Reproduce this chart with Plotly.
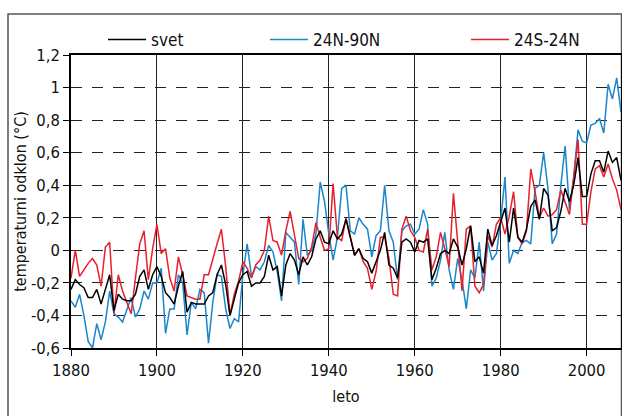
import plotly.graph_objects as go

years = list(range(1880, 2009))

svet = [
    -0.24, -0.18, -0.21, -0.23, -0.29, -0.29, -0.24, -0.33, -0.24, -0.15,
    -0.37, -0.27, -0.30, -0.31, -0.31, -0.27, -0.16, -0.12, -0.24, -0.15,
    -0.10, -0.16, -0.26, -0.29, -0.33, -0.22, -0.13, -0.38, -0.32, -0.33,
    -0.33, -0.33, -0.28, -0.26, -0.15, -0.09, -0.21, -0.40, -0.30, -0.20,
    -0.15, -0.13, -0.22, -0.20, -0.20, -0.16, -0.03, -0.12, -0.10, -0.28,
    -0.09, -0.02, -0.06, -0.15, -0.04, -0.09, -0.04, 0.07, 0.12, 0.05,
    0.04, 0.12, 0.07, 0.10, 0.19, 0.08, -0.03, 0.01, -0.05, -0.07,
    -0.14, -0.07, 0.00, 0.11, -0.09, -0.11, -0.17, 0.05, 0.07, 0.05,
    -0.01, 0.06, 0.05, 0.07, -0.18, -0.11, -0.02, 0.00, -0.02, 0.07,
    0.02, -0.09, 0.01, 0.15, -0.07, -0.04, -0.14, 0.13, 0.03, 0.09,
    0.18, 0.26, 0.05, 0.26, 0.08, 0.05, 0.13, 0.27, 0.31, 0.19,
    0.38, 0.34, 0.12, 0.14, 0.24, 0.38, 0.30, 0.40, 0.57, 0.33,
    0.33, 0.47, 0.55, 0.55, 0.48, 0.61, 0.54, 0.57, 0.43,
]

n24_90 = [
    -0.31, -0.35, -0.27, -0.40, -0.56, -0.60, -0.45, -0.55, -0.44, -0.25,
    -0.39, -0.41, -0.44, -0.36, -0.29, -0.41, -0.36, -0.25, -0.30, -0.20,
    -0.20, -0.11, -0.51, -0.36, -0.36, -0.15, -0.20, -0.52, -0.32, -0.36,
    -0.24, -0.26, -0.57, -0.32, -0.15, -0.16, -0.36, -0.48, -0.42, -0.44,
    -0.15, 0.04, -0.16, -0.10, -0.12, -0.07, 0.03, -0.01, -0.13, -0.31,
    0.11, 0.08, 0.05, -0.21, 0.19, -0.03, 0.00, 0.10, 0.42, 0.30,
    0.10, -0.06, 0.08, 0.38, 0.40, 0.12, 0.10, 0.20, 0.16, 0.13,
    -0.04, 0.09, 0.12, 0.40, 0.12, 0.05, -0.18, 0.12, 0.15, 0.16,
    0.10, 0.13, 0.25, 0.16, -0.22, -0.17, -0.06, 0.11, -0.12, -0.24,
    -0.05, -0.18, -0.36, -0.12, -0.17, 0.05, -0.25, 0.05, -0.06, -0.02,
    0.18, 0.45, -0.08, 0.00, -0.02, 0.05, 0.06, 0.04, 0.38, 0.40,
    0.60, 0.38, 0.04, 0.10, 0.40, 0.64, 0.25, 0.45, 0.74, 0.67,
    0.66, 0.77, 0.78, 0.81, 0.72, 1.02, 0.93, 1.06, 0.85,
]

s24_n24 = [
    -0.17, 0.00, -0.16, -0.12, -0.08, -0.05, -0.09, -0.22, 0.02, 0.05,
    -0.39, -0.15, -0.25, -0.32, -0.39, -0.17, 0.04, 0.12, -0.18, 0.01,
    0.16, -0.02, 0.01, -0.17, -0.25, -0.04, -0.15, -0.28, -0.29, -0.30,
    -0.30, -0.15, -0.15, -0.05, 0.04, 0.13, -0.10, -0.40, -0.27, -0.19,
    -0.07, -0.11, -0.17, -0.09, -0.06, 0.00, 0.21, 0.06, 0.05, -0.03,
    0.12, 0.24, 0.10, -0.05, -0.07, -0.05, 0.02, 0.17, 0.08, 0.00,
    0.01, 0.41, 0.08, 0.06, 0.20, 0.08, -0.03, 0.01, -0.07, -0.11,
    -0.24, -0.13, 0.08, 0.08, -0.05, -0.27, -0.28, 0.13, 0.21, 0.12,
    0.08, 0.00, -0.01, 0.13, -0.12, -0.04, 0.11, 0.01, -0.10, 0.35,
    0.07, -0.25, 0.13, 0.15, -0.22, -0.26, -0.21, 0.09, 0.02, 0.16,
    0.20, 0.10, 0.21, 0.36, 0.08, 0.04, 0.12, 0.50, 0.36, 0.20,
    0.26, 0.21, 0.22, 0.25, 0.37, 0.30, 0.22, 0.45, 0.68, 0.16,
    0.16, 0.36, 0.50, 0.52, 0.45, 0.53, 0.44, 0.37, 0.25,
]

series_names = ["svet", "24N-90N", "24S-24N"]
series_colors = ["#000000", "#1a86cc", "#e8202c"]
x_tick_vals = [1880, 1900, 1920, 1940, 1960, 1980, 2000]
y_tick_vals = [-0.6, -0.4, -0.2, 0, 0.2, 0.4, 0.6, 0.8, 1.0, 1.2]
y_tick_text = ["-0,6", "-0,4", "-0,2", "0", "0,2", "0,4", "0,6", "0,8", "1", "1,2"]

FONT = "DejaVu Sans Condensed, Liberation Sans Narrow, sans-serif"

fig = go.Figure()
order = [1, 2, 0]  # blue, red, then black on top
data = [svet, n24_90, s24_n24]
legend_ids = ["legend", "legend2", "legend3"]
for i in order:
    fig.add_trace(go.Scatter(
        x=years, y=data[i], mode="lines", name=series_names[i],
        line=dict(color=series_colors[i], width=1.5),
        legend=legend_ids[i],
    ))

PL, PR, PT, PB = 71, 1, 55, 68
W, H = 622, 416
pw = W - PL - PR
ph = H - PT - PB

def px_to_paper_x(px):
    return (px - PL) / pw

def px_to_paper_y(py):
    return (H - PB - py) / ph

legend_px = [103, 265, 466]
leg_common = dict(orientation="h", yanchor="middle", xanchor="left",
                  font=dict(family=FONT, size=17, color="#111"),
                  bgcolor="rgba(0,0,0,0)", itemwidth=38)
layout_legends = {}
for i, lid in enumerate(legend_ids):
    layout_legends[lid] = dict(x=px_to_paper_x(legend_px[i]), y=px_to_paper_y(40), **leg_common)

grid_dash = "11px,10px"
tick_font = dict(family=FONT, size=16.5, color="#111")
fig.update_layout(
    width=W, height=H,
    margin=dict(l=PL, r=PR, t=PT, b=PB, pad=0, autoexpand=False),
    paper_bgcolor="white", plot_bgcolor="white",
    font=dict(family=FONT, size=16, color="#111"),
    showlegend=True,
    **layout_legends,
    xaxis=dict(
        range=[1880, 2008], tickvals=x_tick_vals, ticks="outside", ticklen=6,
        tickwidth=1.2, tickcolor="black",
        showline=True, linecolor="black", linewidth=1.5, mirror=True,
        showgrid=True, gridcolor="#222", gridwidth=1,
        zeroline=False, tickfont=tick_font,
        title=dict(text="leto", font=dict(family=FONT, size=16, color="#111"), standoff=12),
    ),
    yaxis=dict(
        range=[-0.6, 1.2], tickvals=y_tick_vals, ticktext=y_tick_text,
        ticks="outside", ticklen=6, tickwidth=1.2, tickcolor="black",
        showline=True, linecolor="black", linewidth=1.5, mirror=True,
        showgrid=True, gridcolor="#222", gridwidth=1, griddash=grid_dash,
        zeroline=False, tickfont=tick_font,
        title=dict(text="temperaturni odklon (°C)", font=dict(family=FONT, size=16, color="#111"), standoff=0),
    ),
)

fig.add_shape(type="rect", xref="paper", yref="paper",
              x0=px_to_paper_x(8), x1=px_to_paper_x(621.5),
              y0=px_to_paper_y(430), y1=px_to_paper_y(14),
              line=dict(color="#555", width=1.5), fillcolor="rgba(0,0,0,0)", layer="below")

fig.write_html("out.html", config={"displayModeBar": False},
               post_script="document.body.style.margin='0';document.body.style.overflow='hidden';")
